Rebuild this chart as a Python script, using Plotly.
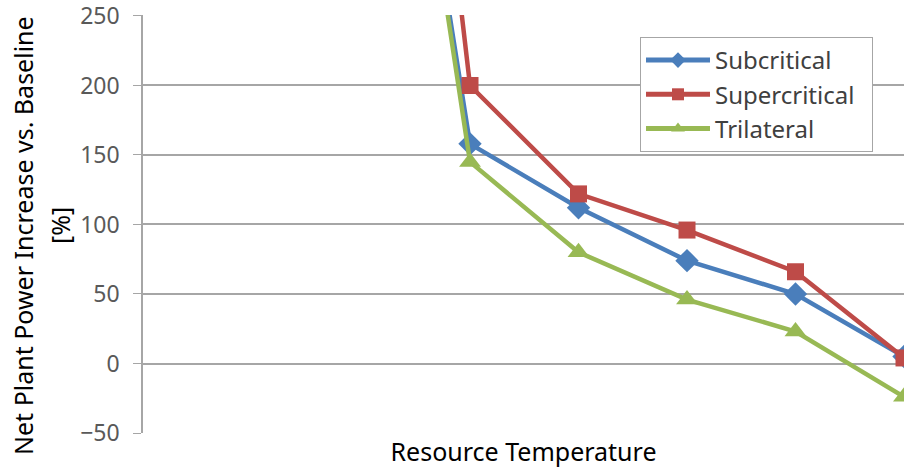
import plotly.graph_objects as go

# Category positions (resource temperature steps, no labels shown)
temps = [1, 2, 3, 4, 5, 6]
subcritical = [650, 158, 112, 74, 50, 5]
supercritical = [870, 200, 122, 96, 66, 4]
trilateral = [660, 145, 80, 46, 23, -24]
y_ticks = [-50, 0, 50, 100, 150, 200, 250]

font_family = "Noto Sans"
fig = go.Figure()
series = [
    ("Subcritical", subcritical, "#4A7EBB", "diamond", 18),
    ("Supercritical\u00a0\u00a0", supercritical, "#BE4B48", "square", 17),
    ("Trilateral", trilateral, "#98B954", "triangle-up", 19),
]
for name, vals, col, sym, sz in series:
    fig.add_trace(go.Scatter(
        x=temps, y=vals, name=name, mode="lines+markers",
        line=dict(color=col, width=4.5),
        marker=dict(symbol=sym, size=sz, color=col),
    ))

W, H = 904, 469
L, T, B = 143, 15, 36
pw = W - L
ph = H - T - B

def px_x(x):
    return (x - L) / pw

def px_y(y):
    return (H - B - y) / ph

fig.update_layout(
    width=W, height=H,
    margin=dict(l=L, r=0, t=T, b=B, autoexpand=False),
    paper_bgcolor="white", plot_bgcolor="white",
    font=dict(family=font_family, color="#595959", size=20),
    showlegend=True,
    legend=dict(
        x=px_x(640), y=px_y(37), xanchor="left", yanchor="top",
        bordercolor="#A6A6A6", borderwidth=1, bgcolor="white",
        font=dict(size=24, color="#404040"),
        tracegroupgap=0, itemsizing="constant", itemwidth=64,
    ),
    xaxis=dict(
        range=[-1.014, 6], showticklabels=False, ticks="",
        showgrid=False, zeroline=False, showline=False,
        title=dict(text="Resource Temperature", font=dict(size=25, color="black"), standoff=10),
    ),
    yaxis=dict(
        range=[-50, 250.7], tickvals=y_ticks, ticks="outside", ticklen=8,
        tickcolor="#A6A6A6", showline=True, linecolor="#A6A6A6", linewidth=1.5,
        showgrid=True, gridcolor="#A6A6A6", gridwidth=1.5, zeroline=False,
        tickfont=dict(size=23, color="#595959"),
        ticklabeloverflow="allow", ticklabelstandoff=9,
    ),
    annotations=[
        dict(text="Net Plant Power Increase vs. Baseline", textangle=-90,
             xref="paper", yref="paper", x=px_x(23), y=px_y(236),
             xanchor="center", yanchor="middle", showarrow=False,
             font=dict(size=25, color="black")),
        dict(text="[%]", textangle=-90,
             xref="paper", yref="paper", x=px_x(60), y=px_y(226),
             xanchor="center", yanchor="middle", showarrow=False,
             font=dict(size=25, color="black")),
    ],
)
fig.write_html("out.html", config={"displayModeBar": False},
               post_script="document.body.style.margin='0';document.body.style.overflow='hidden';")
